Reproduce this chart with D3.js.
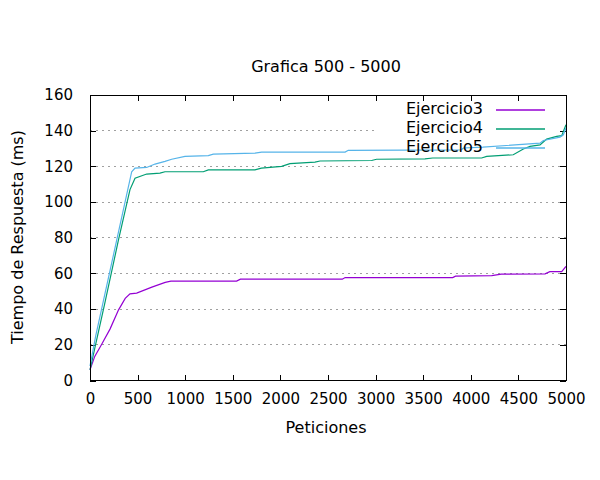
<!DOCTYPE html>
<html>
<head>
<meta charset="utf-8">
<script src="https://cdn.jsdelivr.net/npm/d3@7"></script>
<style>
  html, body { margin: 0; padding: 0; background: #fff; }
  svg { display: block; }
  text { font-family: "DejaVu Sans", sans-serif; fill: #000; }
</style>
</head>
<body>
<svg id="chart" width="600" height="480"></svg>
<script>
// ---- data ----
const title = "Grafica 500 - 5000";
const xLabel = "Peticiones";
const yLabel = "Tiempo de Respuesta (ms)";
const xTicks = [0, 500, 1000, 1500, 2000, 2500, 3000, 3500, 4000, 4500, 5000];
const yTicks = [0, 20, 40, 60, 80, 100, 120, 140, 160];
const seriesNames = ["Ejercicio3", "Ejercicio4", "Ejercicio5"];
const seriesColors = ["#9400d3", "#009e73", "#56b4e9"];

const ej3X = [0, 50, 120, 210, 300, 370, 420, 490, 650, 790, 850, 1540, 1580, 2650, 2680, 3810, 3840, 4220, 4320, 4780, 4830, 4955, 5000];
const ej3Y = [6, 13.5, 20, 28.8, 39.6, 46, 48.6, 49, 52.3, 55, 55.7, 55.7, 56.8, 56.8, 57.7, 57.7, 58.5, 58.8, 59.6, 59.8, 61, 61, 64];

const ej4X = [0, 50, 150, 298, 420, 473, 595, 735, 788, 1190, 1243, 1733, 1800, 2013, 2100, 2363, 2416, 2958, 3010, 3519, 3600, 4114, 4167, 4446, 4552, 4622, 4727, 4797, 4902, 4955, 4972, 5000];
const ej4Y = [6, 18, 42, 78.5, 107, 113.4, 115.7, 116.2, 117, 117, 118, 118, 119, 120, 121.5, 122.4, 123, 123.3, 124, 124.2, 124.7, 124.7, 125.6, 126.5, 129.7, 131.2, 132, 135.3, 136.8, 137.2, 139.6, 143.3];

const ej5X = [0, 60, 438, 473, 595, 683, 788, 858, 998, 1243, 1295, 1733, 1803, 2680, 2713, 3900, 3922, 4128, 4727, 4762, 4937, 4972, 5000];
const ej5Y = [8, 25, 117, 119, 119.4, 121.3, 122.8, 124, 125.6, 126, 126.9, 127.4, 128, 128, 129, 129.3, 130.3, 130.8, 133, 134.5, 136.4, 137.7, 141.5];

const seriesX = [ej3X, ej4X, ej5X];
const seriesY = [ej3Y, ej4Y, ej5Y];

// ---- layout ----
const L = 90, R = 566, T = 95, B = 380.5;
const FS = 15, FS_LABEL = 16;
const svg = d3.select("#chart");

const x = d3.scaleLinear().domain([0, 5000]).range([L, R]);
const y = d3.scaleLinear().domain([0, 160]).range([B, T]);

// grid (horizontal, dashed), clipped where the key sits
const keyLeft = 377, keyBottom = 157;
svg.append("g").selectAll("line")
  .data(yTicks.filter(d => d > 0 && d < 160))
  .join("line")
  .attr("x1", L)
  .attr("x2", d => (y(d) < keyBottom ? keyLeft : R))
  .attr("y1", d => y(d)).attr("y2", d => y(d))
  .attr("stroke", "#a0a0a0")
  .attr("stroke-width", 1)
  .attr("stroke-dasharray", "2,4")
  .attr("shape-rendering", "crispEdges");

// axes (inward ticks, mirrored)
const tickLen = 6;
const gx = svg.append("g").attr("transform", `translate(0,${B})`)
  .call(d3.axisBottom(x).tickValues(xTicks).tickFormat(d3.format("d"))
    .tickSizeInner(-tickLen).tickSizeOuter(0).tickPadding(13));
const gxt = svg.append("g").attr("transform", `translate(0,${T})`)
  .call(d3.axisTop(x).tickValues(xTicks).tickFormat("")
    .tickSizeInner(-tickLen).tickSizeOuter(0));
const gy = svg.append("g").attr("transform", `translate(${L},0)`)
  .call(d3.axisLeft(y).tickValues(yTicks).tickFormat(d3.format("d"))
    .tickSizeInner(-tickLen).tickSizeOuter(0).tickPadding(17));
const gyr = svg.append("g").attr("transform", `translate(${R},0)`)
  .call(d3.axisRight(y).tickValues(yTicks).tickFormat("")
    .tickSizeInner(-tickLen).tickSizeOuter(0));

[gx, gxt, gy, gyr].forEach(g => {
  g.select(".domain").remove();
  g.selectAll(".tick line").attr("stroke", "#000").attr("shape-rendering", "crispEdges");
  g.selectAll("text").attr("font-size", FS).attr("font-family", "DejaVu Sans, sans-serif").attr("fill", "#000");
});

// series lines
const line = d3.line().x(d => x(d[0])).y(d => y(d[1]));
seriesNames.forEach((name, i) => {
  const pts = seriesX[i].map((v, k) => [v, seriesY[i][k]]);
  svg.append("path")
    .datum(pts)
    .attr("d", line)
    .attr("fill", "none")
    .attr("stroke", seriesColors[i])
    .attr("stroke-width", 1.2);
});

// border
svg.append("rect")
  .attr("x", L).attr("y", T).attr("width", R - L).attr("height", B - T)
  .attr("fill", "none").attr("stroke", "#000").attr("stroke-width", 1)
  .attr("shape-rendering", "crispEdges");

// legend
const keyTextRight = 483, keySampleX1 = 496, keySampleX2 = 545;
const keyRow0 = 108.5, keyRowStep = 19;
seriesNames.forEach((name, i) => {
  const cy = keyRow0 + i * keyRowStep;
  svg.append("text")
    .attr("x", keyTextRight).attr("y", cy)
    .attr("text-anchor", "end").attr("dominant-baseline", "central")
    .attr("font-size", FS_LABEL)
    .text(name);
  const ly = Math.round(cy + 1);
  svg.append("line")
    .attr("x1", keySampleX1).attr("x2", keySampleX2)
    .attr("y1", ly).attr("y2", ly)
    .attr("stroke", seriesColors[i]).attr("stroke-width", 1.5);
});

// title & axis labels
svg.append("text").attr("x", 326).attr("y", 66)
  .attr("text-anchor", "middle").attr("dominant-baseline", "central")
  .attr("font-size", FS_LABEL).text(title);
svg.append("text").attr("x", 326).attr("y", 427)
  .attr("text-anchor", "middle").attr("dominant-baseline", "central")
  .attr("font-size", FS_LABEL).text(xLabel);
svg.append("text")
  .attr("transform", "translate(17,237) rotate(-90)")
  .attr("text-anchor", "middle").attr("dominant-baseline", "central")
  .attr("font-size", FS_LABEL).text(yLabel);
</script>
</body>
</html>
